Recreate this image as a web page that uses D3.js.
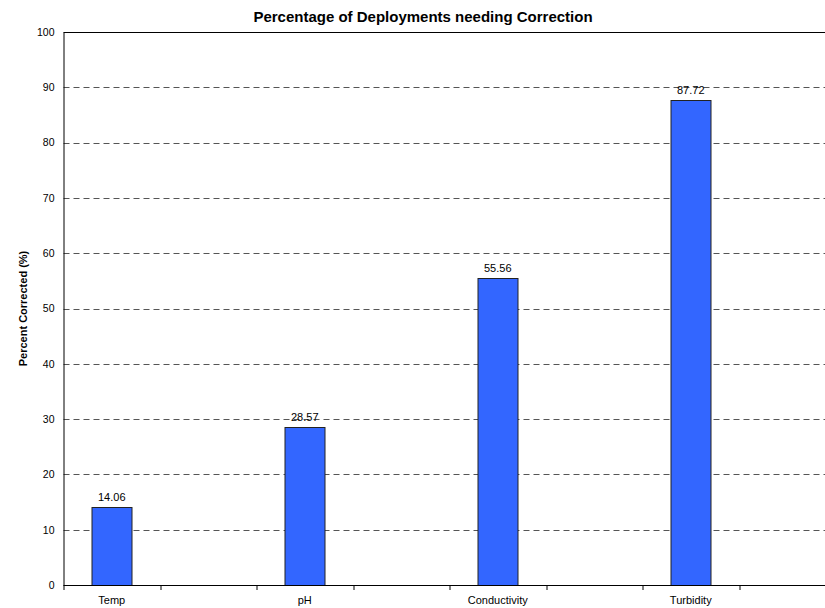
<!DOCTYPE html>
<html>
<head>
<meta charset="utf-8">
<script src="https://cdn.jsdelivr.net/npm/d3@7"></script>
<style>
  body { margin: 0; background: #fff; }
  svg { display: block; font-family: Arial, "Liberation Sans", sans-serif; }
</style>
</head>
<body>
<div id="chart"></div>
<script>
const categories = ["Temp", "pH", "Conductivity", "Turbidity"];
const values = [14.06, 28.57, 55.56, 87.72];
const yTicks = [0, 10, 20, 30, 40, 50, 60, 70, 80, 90, 100];

let outerWidth = 825, outerHeight = 608;
let margin = {top: 32, left: 63.5, bottom: 23};
let width = 772; // plot runs past the right edge of the picture
let height = outerHeight - margin.top - margin.bottom;

const svg = d3.select("#chart").append("svg")
    .attr("width", outerWidth)
    .attr("height", outerHeight);

const g = svg.append("g")
    .attr("transform", "translate(" + margin.left + "," + margin.top + ")");

// each category gets its bar slot plus an empty slot, like the source axis
const slots = categories.flatMap(c => [c, c + "__gap"]);

const xScale = d3.scaleBand()
    .domain(slots)
    .range([0, width]);

const yScale = d3.scaleLinear()
    .domain([0, 100])
    .range([height, 0]);

const bw = xScale.bandwidth();
const barW = bw * 0.41;

// grid lines
g.selectAll(".grid")
    .data(yTicks.filter(d => d > 0 && d < 100))
    .enter().append("line")
    .attr("class", "grid")
    .attr("x1", 0)
    .attr("x2", width)
    .attr("y1", d => Math.round(yScale(d)) + 0.5)
    .attr("y2", d => Math.round(yScale(d)) + 0.5)
    .attr("stroke", "#555")
    .attr("stroke-dasharray", "6,4");

// top border
g.append("line")
    .attr("x1", 0).attr("x2", width)
    .attr("y1", 0.5).attr("y2", 0.5)
    .attr("stroke", "#000");

// bars
g.selectAll(".bar")
    .data(values)
    .enter().append("rect")
    .attr("class", "bar")
    .attr("x", (d, i) => Math.round(xScale(categories[i]) + (bw - barW) / 2) + 0.5)
    .attr("y", d => Math.round(yScale(d)) + 0.5)
    .attr("width", Math.round(barW))
    .attr("height", d => Math.round(height - yScale(d)))
    .attr("fill", "#3366ff")
    .attr("stroke", "#222")
    .attr("stroke-width", 1);

// value labels
g.selectAll(".value")
    .data(values)
    .enter().append("text")
    .attr("class", "value")
    .attr("x", (d, i) => xScale(categories[i]) + bw / 2)
    .attr("y", d => yScale(d) - 6)
    .attr("text-anchor", "middle")
    .attr("font-size", 11)
    .attr("fill", "#000")
    .text(d => d.toFixed(2));

// y axis
const yAxis = d3.axisLeft(yScale)
    .tickValues(yTicks)
    .tickSize(0)
    .tickPadding(9);

g.append("g")
    .attr("class", "y-axis")
    .call(yAxis)
    .call(a => a.select(".domain").attr("stroke", "#000"))
    .call(a => a.selectAll("text").attr("font-size", 10.5).attr("fill", "#000").attr("font-family", "Arial, sans-serif"));

// x axis line and ticks at slot boundaries
g.append("line")
    .attr("x1", 0).attr("x2", width)
    .attr("y1", height + 0.5).attr("y2", height + 0.5)
    .attr("stroke", "#000");

g.selectAll(".xtick")
    .data(slots)
    .enter().append("line")
    .attr("class", "xtick")
    .attr("x1", d => Math.round(xScale(d)) + 0.5)
    .attr("x2", d => Math.round(xScale(d)) + 0.5)
    .attr("y1", height)
    .attr("y2", height + 5)
    .attr("stroke", "#000");

g.selectAll(".xlabel")
    .data(categories)
    .enter().append("text")
    .attr("class", "xlabel")
    .attr("x", d => xScale(d) + bw / 2)
    .attr("y", height + 19)
    .attr("text-anchor", "middle")
    .attr("font-size", 11)
    .text(d => d);

// titles
svg.append("text")
    .attr("x", 423)
    .attr("y", 22)
    .attr("text-anchor", "middle")
    .attr("font-size", 15)
    .attr("font-weight", "bold")
    .text("Percentage of Deployments needing Correction");

svg.append("text")
    .attr("transform", "translate(27," + (margin.top + height / 2) + ") rotate(-90)")
    .attr("text-anchor", "middle")
    .attr("font-size", 11)
    .attr("font-weight", "bold")
    .text("Percent Corrected (%)");
</script>
</body>
</html>
